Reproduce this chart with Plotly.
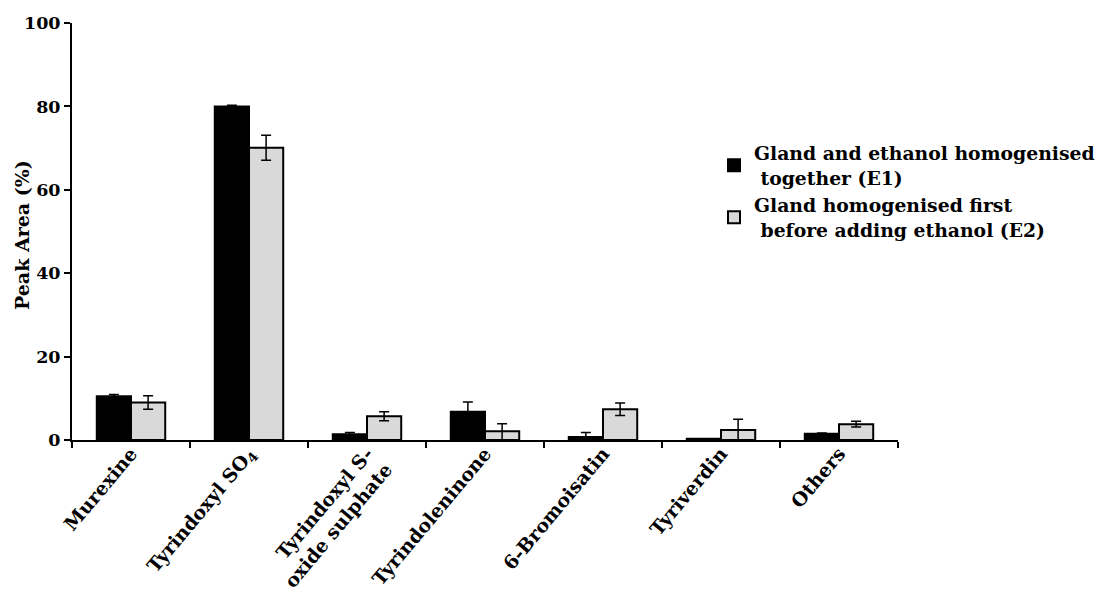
import plotly.graph_objects as go

categories = ["Murexine", "Tyrindoxyl SO<sub>4</sub>", "Tyrindoxyl S-<br>oxide sulphate",
              "Tyrindoleninone", "6-Bromoisatin", "Tyriverdin", "Others"]
e1_values = [10.5, 80.0, 1.4, 6.8, 0.7, 0.3, 1.5]
e1_err = [0.4, 0.3, 0.4, 2.3, 1.1, 0.0, 0.2]
e2_values = [9.0, 70.1, 5.7, 2.1, 7.4, 2.4, 3.8]
e2_err_plus = [1.6, 3.0, 1.1, 1.8, 1.5, 2.6, 0.7]
e2_err_minus = [1.6, 3.0, 1.1, 2.1, 1.5, 2.4, 0.7]
y_ticks = [0, 20, 40, 60, 80, 100]

FONT = "DejaVu Serif"
L, T, W_PLOT, H_PLOT = 64, 15, 826, 417

fig = go.Figure()
fig.add_trace(go.Bar(
    x=categories, y=e1_values,
    name="Gland and ethanol homogenised<br> together (E1)",
    marker=dict(color="black", line=dict(color="black", width=2)),
    error_y=dict(type="data", array=e1_err, symmetric=True, color="black", thickness=1.5, width=5),
))
fig.add_trace(go.Bar(
    x=categories, y=e2_values,
    name="Gland homogenised first<br> before adding ethanol (E2)",
    marker=dict(color="#d9d9d9", line=dict(color="black", width=2)),
    error_y=dict(type="data", array=e2_err_plus, arrayminus=e2_err_minus, symmetric=False,
                 color="black", thickness=1.5, width=5),
))

fig.update_layout(
    width=1111, height=597,
    paper_bgcolor="white", plot_bgcolor="white",
    margin=dict(l=L, r=1111 - L - W_PLOT, t=T, b=597 - T - H_PLOT, autoexpand=False),
    barmode="group", bargap=0.42, bargroupgap=0,
    font=dict(family=FONT, color="black"),
    legend=dict(x=(706 - L) / W_PLOT, y=0.733, xanchor="left", yanchor="top",
                font=dict(family=FONT, size=18.8, color="black", weight="bold"),
                tracegroupgap=4, itemwidth=30),
    showlegend=True,
    annotations=[dict(text="Peak Area (%)", textangle=-90, xref="paper", yref="paper",
                      x=(14 - L) / W_PLOT, y=(432 - 227) / H_PLOT, xanchor="center", yanchor="middle",
                      showarrow=False, font=dict(family=FONT, size=19, color="black", weight="bold"))],
)
fig.update_xaxes(
    range=[-0.5, 6.5], showline=True, linecolor="black", linewidth=2,
    ticks="outside", tickson="boundaries", ticklen=6, tickwidth=1.5, tickcolor="black",
    tickangle=-50, tickfont=dict(family=FONT, size=19, color="black", weight="bold"),
    ticklabelstandoff=-7,
    showgrid=False, zeroline=False, automargin=False,
)
fig.update_yaxes(
    range=[0, 100], tickvals=y_ticks, showline=True, linecolor="black", linewidth=2,
    ticks="outside", ticklen=6, tickwidth=1.5, tickcolor="black",
    tickfont=dict(family=FONT, size=17.5, color="black", weight="bold"),
    showgrid=False, zeroline=False, automargin=False,
)

fig.write_html("out.html")
